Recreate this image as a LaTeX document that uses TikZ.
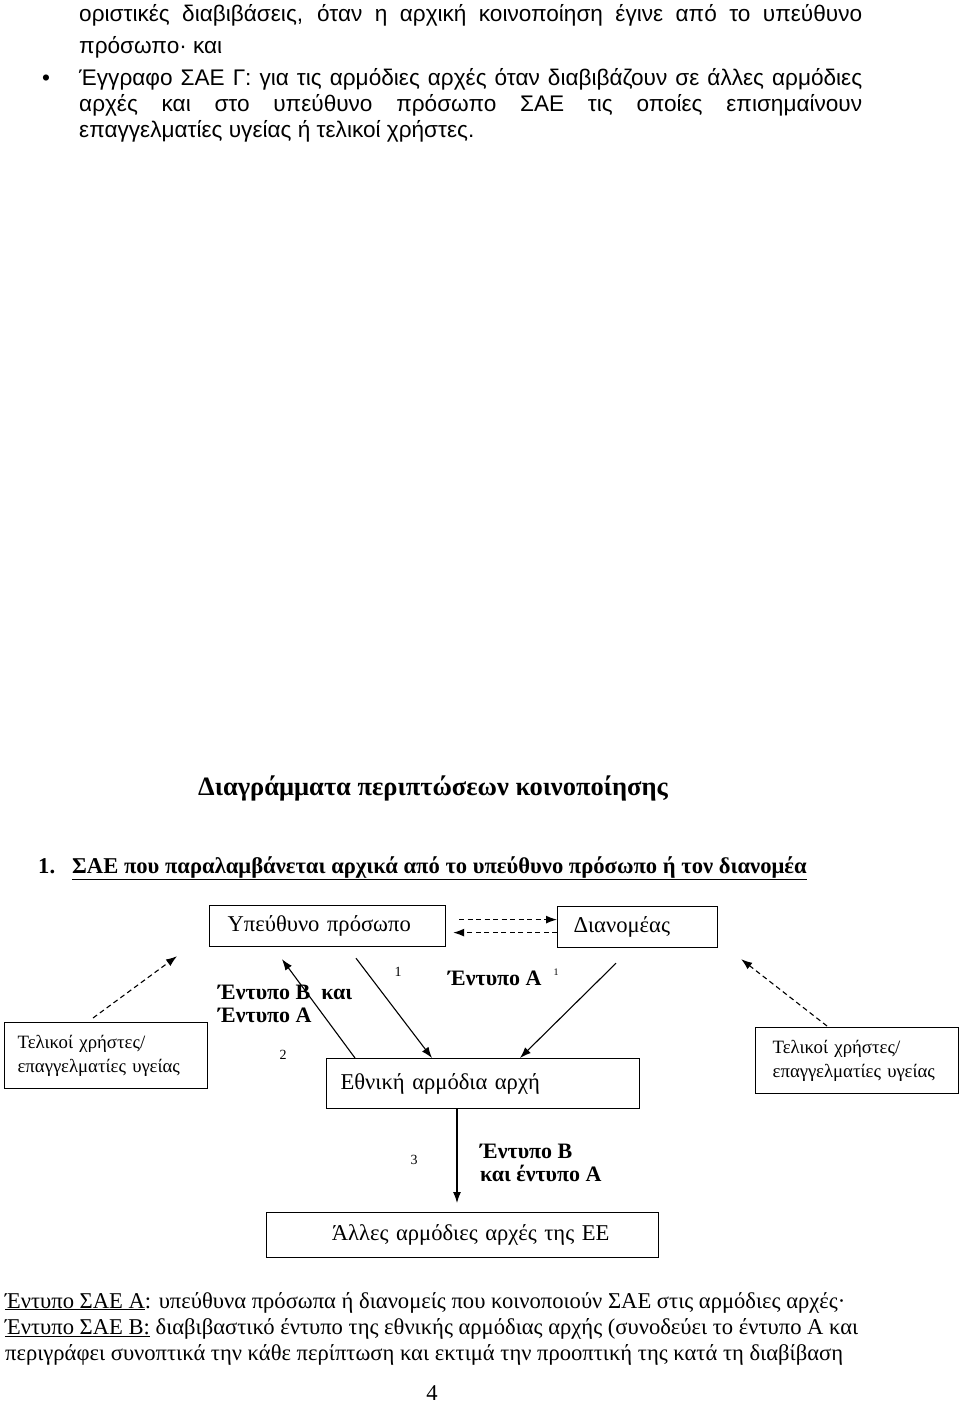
\documentclass[tikz,border=0pt]{standalone}
\usepackage{fontspec}
\setmainfont{Liberation Serif}
\newfontfamily\arial{Liberation Sans}
\usetikzlibrary{arrows.meta,calc}
\tikzset{
  body/.style={font=\arial\fontsize{22.6}{26}\selectfont, inner sep=0pt},
  serif/.style={font=\fontsize{22.6}{26}\selectfont, inner sep=0pt},
  boxtext/.style={draw, line width=1.2pt, anchor=north west, align=left, font=\fontsize{22.6}{26}\selectfont},
  smalltext/.style={draw, line width=1.2pt, anchor=north west, align=left, font=\fontsize{18.8}{24}\selectfont},
  lbl/.style={font=\bfseries\fontsize{22}{22.5}\selectfont, inner sep=0pt, align=left},
  num/.style={font=\fontsize{14}{16}\selectfont, inner sep=0pt},
  arr/.style={-{Latex[length=11pt,width=8pt]}, line width=1.1pt},
  darr/.style={-{Latex[length=11pt,width=8pt]}, line width=1.1pt, dash pattern=on 5pt off 3.5pt}
}
\begin{document}
\begin{tikzpicture}[x=1pt,y=-1pt]
\useasboundingbox (0,0) rectangle (960,1404);
% top text
\node[body, anchor=base west] (t1) at (79,22) {\makebox[783pt][s]{οριστικές διαβιβάσεις, όταν η αρχική κοινοποίηση έγινε από το υπεύθυνο}};
\node[body, anchor=base west] (t2) at (79,54) {πρόσωπο· και};
\node[body, anchor=base west] (bul) at (42,86) {•};
\node[body, anchor=base west] (t3) at (79,86) {\makebox[783pt][s]{Έγγραφο ΣΑΕ Γ: για τις αρμόδιες αρχές όταν διαβιβάζουν σε άλλες αρμόδιες}};
\node[body, anchor=base west] (t4) at (79,112) {\makebox[783pt][s]{αρχές και στο υπεύθυνο πρόσωπο ΣΑΕ τις οποίες επισημαίνουν}};
\node[body, anchor=base west] (t5) at (79,138) {επαγγελματίες υγείας ή τελικοί χρήστες.};
% headings
\node[font=\bfseries\fontsize{26.5}{30}\selectfont, inner sep=0pt, anchor=base west] (h1) at (198,795) {Διαγράμματα περιπτώσεων κοινοποίησης};
\node[font=\bfseries\fontsize{22.6}{26}\selectfont, inner sep=0pt, anchor=base west] (h2n) at (38,873) {1.};
\node[font=\bfseries\fontsize{22.6}{26}\selectfont, inner sep=0pt, anchor=base west] (h2) at (72,873) {\underline{ΣΑΕ που παραλαμβάνεται αρχικά από το υπεύθυνο πρόσωπο ή τον διανομέα}};
% boxes
\node[boxtext, inner xsep=18pt, text width=200pt, minimum height=41pt] (yp) at (209,905) {Υπεύθυνο πρόσωπο};
\node[boxtext, inner xsep=16pt, text width=128pt, minimum height=41pt] (dn) at (557,906) {Διανομέας};
\node[smalltext, inner xsep=13pt, text width=177pt, minimum height=66pt] (lb) at (4,1022) {Τελικοί χρήστες/\\επαγγελματίες υγείας};
\node[smalltext, inner xsep=17pt, text width=169pt, minimum height=66pt] (rb) at (755,1027) {Τελικοί χρήστες/\\επαγγελματίες υγείας};
\node[boxtext, inner xsep=14pt, text width=285pt, minimum height=50pt] (eth) at (326,1058) {Εθνική αρμόδια αρχή};
\node[boxtext, inner xsep=4pt, text width=384pt, minimum height=45pt, align=center] (ee) at (266,1212) {\hspace*{16pt}Άλλες αρμόδιες αρχές της ΕΕ};
% connectors
\draw[darr] ($(yp.east)+(13,-6.5)$) -- ($(dn.west)+(0,-7.5)$);
\draw[darr] ($(dn.west)+(0,5.5)$) -- ($(yp.east)+(7,6.5)$);
\draw[darr] ($(lb.north west)+(89,-4)$) -- ($(yp.south west)+(-32,9)$);
\draw[darr] ($(rb.north west)+(72,-1)$) -- ($(dn.south east)+(23,11)$);
\draw[arr] ($(yp.south west)+(147,11)$) -- ($(eth.north west)+(106,0)$);
\draw[arr] ($(eth.north west)+(29,0)$) -- ($(yp.south west)+(73,12)$);
\draw[arr] ($(dn.south west)+(59,15)$) -- ($(eth.north west)+(194,0)$);
\draw[arr] ($(eth.south west)+(131,0)$) -- ($(ee.north west)+(191,-9)$);
% labels
\node[num] (n1) at (398,972) {1};
\node[num, font=\fontsize{10}{12}\selectfont] (n1b) at (556,972) {1};
\node[num] (n2) at (283,1055) {2};
\node[num] (n3) at (414,1160) {3};
\node[lbl, anchor=base west] (lba) at (218,1022) {Έντυπο Β\ \ και\\Έντυπο Α};
\node[lbl, anchor=base west] (lbb) at (448,985) {Έντυπο Α};
\node[lbl, anchor=base west] (lbc) at (480,1181) {Έντυπο Β\\και έντυπο Α};
% bottom text
\node[serif, anchor=base west] (b1) at (5,1308) {\underline{Έντυπο ΣΑΕ Α}: υπεύθυνα πρόσωπα ή διανομείς που κοινοποιούν ΣΑΕ στις αρμόδιες αρχές·};
\node[serif, anchor=base west] (b2) at (5,1334) {\underline{Έντυπο ΣΑΕ Β:} διαβιβαστικό έντυπο της εθνικής αρμόδιας αρχής (συνοδεύει το έντυπο Α και};
\node[serif, anchor=base west] (b3) at (5,1360) {περιγράφει συνοπτικά την κάθε περίπτωση και εκτιμά την προοπτική της κατά τη διαβίβαση};
\node[serif, anchor=base] (pg) at (432,1400) {4};
\end{tikzpicture}
\end{document}
